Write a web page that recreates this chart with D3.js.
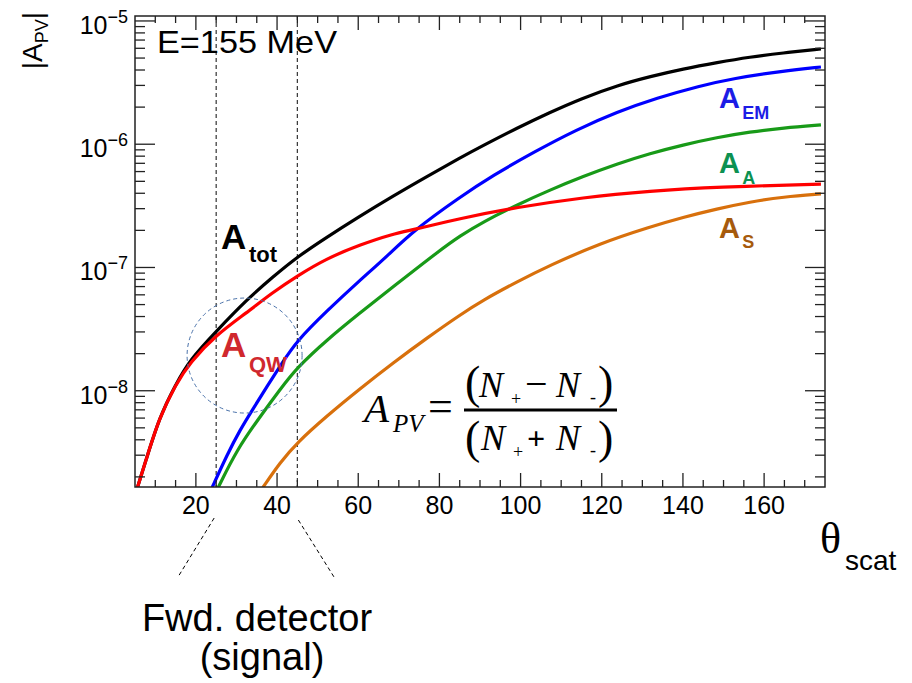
<!DOCTYPE html>
<html>
<head>
<meta charset="utf-8">
<script src="https://cdn.jsdelivr.net/npm/d3@7"></script>
<style>
body { margin: 0; background: #fff; }
svg text { font-family: "Liberation Sans", Arial, sans-serif; }
.serif { font-family: "Liberation Serif", "Times New Roman", serif; }
</style>
</head>
<body>
<svg id="chart" width="912" height="683"></svg>
<script>
// theta (deg) and |A_PV|, one pair of arrays per curve
var thetaTot = [5.5, 7.5, 11, 15, 18.5, 25, 32.5, 39, 45, 52, 60, 68.5, 77, 85, 91, 99, 107, 115, 124, 132, 140, 148.5, 156.5, 164.5, 174];
var aTot = [1.6e-9, 2.6e-9, 6.1e-9, 1.12e-8, 1.78e-8, 3.03e-8, 5.47e-8, 8.4e-8, 1.22e-7, 1.739e-7, 2.561e-7, 3.788e-7, 5.495e-7, 7.72e-7, 9.84e-7, 1.345e-6, 1.8e-6, 2.35e-6, 3.01e-6, 3.546e-6, 4.077e-6, 4.603e-6, 5.1e-6, 5.5e-6, 5.92e-6];

var thetaEM = [24, 27.7, 30.9, 34.1, 37.5, 41.2, 44.9, 52.3, 60.4, 67.1, 73.5, 85.1, 93.2, 103.1, 113.9, 123.75, 133.6, 144.1, 152.3, 164.6, 174];
var aEM = [1.64e-9, 3.03e-9, 4.83e-9, 7.15e-9, 1.078e-8, 1.671e-8, 2.543e-8, 4.453e-8, 7.87e-8, 1.231e-7, 1.982e-7, 3.739e-7, 5.585e-7, 8.58e-7, 1.318e-6, 1.827e-6, 2.373e-6, 2.97e-6, 3.415e-6, 3.928e-6, 4.232e-6];

var thetaA = [25.5, 30.1, 35.8, 40.7, 44.9, 52.3, 60.4, 68.6, 80.1, 85.1, 90.8, 99.1, 107.3, 115.4, 123.75, 131.9, 140, 148.4, 156.5, 164.7, 174];
var aA = [1.64e-9, 3.33e-9, 6.15e-9, 1.02e-8, 1.54e-8, 2.59e-8, 4.28e-8, 6.97e-8, 1.377e-7, 1.805e-7, 2.345e-7, 3.22e-7, 4.26e-7, 5.48e-7, 6.92e-7, 8.42e-7, 9.87e-7, 1.135e-6, 1.258e-6, 1.356e-6, 1.433e-6];

var thetaQW = [5.5, 7.5, 11, 15, 18.5, 25, 32.5, 38.8, 45, 52, 60.4, 68.6, 73.5, 85, 99, 115.4, 131.9, 148.4, 174];
var aQW = [1.6e-9, 2.6e-9, 6.1e-9, 1.12e-8, 1.69e-8, 2.84e-8, 4.29e-8, 6.23e-8, 8.55e-8, 1.175e-7, 1.527e-7, 1.874e-7, 2.02e-7, 2.503e-7, 3.074e-7, 3.704e-7, 4.18e-7, 4.506e-7, 4.74e-7];

var thetaS = [36.5, 40.7, 44.9, 52.3, 60.4, 68.6, 77, 85.1, 90.7, 99.1, 107.2, 119.6, 131.9, 140, 148.4, 156.5, 164.7, 174];
var aS = [1.64e-9, 2.61e-9, 3.79e-9, 6.27e-9, 1.038e-8, 1.685e-8, 2.689e-8, 4.13e-8, 5.42e-8, 7.65e-8, 1.041e-7, 1.57e-7, 2.135e-7, 2.55e-7, 2.99e-7, 3.4e-7, 3.74e-7, 3.95e-7];

var xMajor = [20, 40, 60, 80, 100, 120, 140, 160];
var yMajor = [1e-8, 1e-7, 1e-6, 1e-5];
var yExp = ['\u22128', '\u22127', '\u22126', '\u22125'];
var detectorEdges = [25, 45];

var series = [
	{ theta: thetaTot, vals: aTot, color: '#000000' },
	{ theta: thetaEM, vals: aEM, color: '#0000ff' },
	{ theta: thetaA, vals: aA, color: '#189a18' },
	{ theta: thetaS, vals: aS, color: '#d8700c' },
	{ theta: thetaQW, vals: aQW, color: '#ff0000' }
];

var padL = 135, padR = 825, padT = 16, padB = 487;

var svg = d3.select('#chart');

var x = d3.scaleLinear().domain([5, 175]).range([padL, padR]);
var y = d3.scaleLog().domain([1.656e-9, 1.097e-5]).range([padB, padT]);

svg.append('clipPath').attr('id', 'plotclip')
	.append('rect')
	.attr('x', padL).attr('y', padT)
	.attr('width', padR - padL).attr('height', padB - padT);

// detector acceptance lines
svg.selectAll('.edge').data(detectorEdges).enter()
	.append('line')
	.attr('x1', d => x(d)).attr('x2', d => x(d))
	.attr('y1', padT).attr('y2', padB)
	.style('stroke', '#333').style('stroke-width', 1.2)
	.style('stroke-dasharray', '4,3');

// curves (basis spline evens out the reading noise)
var line = d3.line()
	.x(d => x(d[0]))
	.y(d => y(d[1]))
	.curve(d3.curveBasis);

var curves = svg.append('g').attr('clip-path', 'url(#plotclip)');
series.forEach(function(s) {
	var pts = s.theta.map((t, i) => [t, s.vals[i]]);
	curves.append('path')
		.attr('d', line(pts))
		.style('fill', 'none')
		.style('stroke', s.color)
		.style('stroke-width', 3.2)
		.style('stroke-linejoin', 'round');
});

// dashed circle round the small-angle region
svg.append('circle')
	.attr('cx', x(32)).attr('cy', y(1.93e-8))
	.attr('r', 57.5)
	.style('fill', 'none')
	.style('stroke', '#4a72aa')
	.style('stroke-width', 1)
	.style('stroke-dasharray', '4,3');

// frame
svg.append('rect')
	.attr('x', padL).attr('y', padT)
	.attr('width', padR - padL).attr('height', padB - padT)
	.style('fill', 'none').style('stroke', '#222').style('stroke-width', 1.5);

// x ticks, inside on bottom and top
var xMinor = d3.range(10, 175, 5).filter(v => v % 20 !== 0);
var tk = svg.append('g').style('stroke', '#222').style('stroke-width', 1.3);
function xTicks(vals, len) {
	vals.forEach(function(v) {
		tk.append('line').attr('x1', x(v)).attr('x2', x(v)).attr('y1', padB).attr('y2', padB - len);
		tk.append('line').attr('x1', x(v)).attr('x2', x(v)).attr('y1', padT).attr('y2', padT + len);
	});
}
xTicks(xMajor, 14);
xTicks(xMinor, 7);

// y ticks, inside on left and right
var yMinor = [];
[-9, -8, -7, -6, -5].forEach(function(e) {
	for (var k = 2; k <= 9; k++) {
		var v = k * Math.pow(10, e);
		if (v > y.domain()[0] && v < y.domain()[1]) yMinor.push(v);
	}
});
function yTicks(vals, len) {
	vals.forEach(function(v) {
		tk.append('line').attr('x1', padL).attr('x2', padL + len).attr('y1', y(v)).attr('y2', y(v));
		tk.append('line').attr('x1', padR).attr('x2', padR - len).attr('y1', y(v)).attr('y2', y(v));
	});
}
yTicks(yMajor, 20);
yTicks(yMinor, 10);

// tick labels
svg.selectAll('.xlab').data(xMajor).enter()
	.append('text')
	.attr('x', d => x(d)).attr('y', 514)
	.attr('text-anchor', 'middle')
	.style('font-size', '25px')
	.text(d => d);

yMajor.forEach(function(v, i) {
	var t = svg.append('text')
		.attr('x', 128).attr('y', y(v) + 13)
		.attr('text-anchor', 'end')
		.style('font-size', '25px');
	t.append('tspan').text('10');
	t.append('tspan').attr('dy', -11).style('font-size', '18px').text(yExp[i]);
});

// axis titles
var yt = svg.append('text')
	.attr('transform', 'translate(42,12) rotate(-90)')
	.attr('text-anchor', 'end')
	.style('font-size', '28px');
yt.append('tspan').text('|A');
yt.append('tspan').attr('dy', 6).style('font-size', '18px').text('PV');
yt.append('tspan').attr('dy', -6).text('|');

svg.append('text').attr('class', 'serif')
	.attr('x', 820).attr('y', 553)
	.style('font-size', '44px')
	.text('\u03b8');
svg.append('text')
	.attr('x', 845).attr('y', 570)
	.style('font-size', '28px')
	.text('scat');

svg.append('text')
	.attr('x', 157).attr('y', 53)
	.attr('textLength', 180).attr('lengthAdjust', 'spacingAndGlyphs')
	.style('font-size', '32px')
	.text('E=155 MeV');

// curve labels
function tag(px, py, main, sub, size, subSize, subDrop, color) {
	var g = svg.append('g').style('fill', color).style('font-weight', 'bold');
	g.append('text').attr('x', px).attr('y', py).style('font-size', size + 'px').text(main);
	g.append('text').attr('x', px + size * 0.8).attr('y', py + subDrop).style('font-size', subSize + 'px').text(sub);
}
tag(221, 249, 'A', 'tot', 35, 22, 13, '#000000');
tag(221, 357, 'A', 'QW', 35, 22, 15, '#d0282e');
tag(719, 108, 'A', 'EM', 29, 18, 11, '#1c1ce6');
tag(719, 173, 'A', 'A', 29, 18, 11, '#0c9152');
tag(719, 238, 'A', 'S', 29, 18, 10, '#a65a0c');

// formula
var f = svg.append('g').style('fill', '#000');
function ft(px, py, s, size, italic, weight) {
	f.append('text').attr('class', 'serif')
		.attr('x', px).attr('y', py)
		.style('font-size', size + 'px')
		.style('font-style', italic ? 'italic' : 'normal')
		.style('font-weight', weight || 'normal')
		.text(s);
}
ft(364, 422, 'A', 41, true);
ft(393, 432, 'PV', 25, true);
ft(428, 421, '=', 44, false);
f.append('line').attr('x1', 464).attr('x2', 617).attr('y1', 410).attr('y2', 410)
	.style('stroke', '#000').style('stroke-width', 3);
ft(465, 398, '(', 46, false);
ft(479, 397, 'N', 36, true);
ft(511, 405, '+', 18, false);
ft(525, 397, '\u2212', 40, false);
ft(556, 397, 'N', 36, true);
ft(590, 403, '-', 18, false);
ft(598, 398, ')', 46, false);
ft(465, 453, '(', 46, false);
ft(481, 450, 'N', 36, true);
ft(513, 458, '+', 18, false);
ft(527, 449, '+', 32, false, 'bold');
ft(556, 450, 'N', 36, true);
ft(590, 456, '-', 18, false);
ft(598, 453, ')', 46, false);

// forward detector callout
svg.append('line').attr('x1', x(25) - 2).attr('y1', 518).attr('x2', 178).attr('y2', 577)
	.style('stroke', '#000').style('stroke-width', 1).style('stroke-dasharray', '4,3');
svg.append('line').attr('x1', x(45) + 1).attr('y1', 520).attr('x2', 334).attr('y2', 577)
	.style('stroke', '#000').style('stroke-width', 1).style('stroke-dasharray', '4,3');
svg.append('text').attr('x', 257).attr('y', 631).attr('text-anchor', 'middle')
	.style('font-size', '38px').text('Fwd. detector');
svg.append('text').attr('x', 262).attr('y', 670).attr('text-anchor', 'middle')
	.style('font-size', '38px').text('(signal)');
</script>
</body>
</html>
